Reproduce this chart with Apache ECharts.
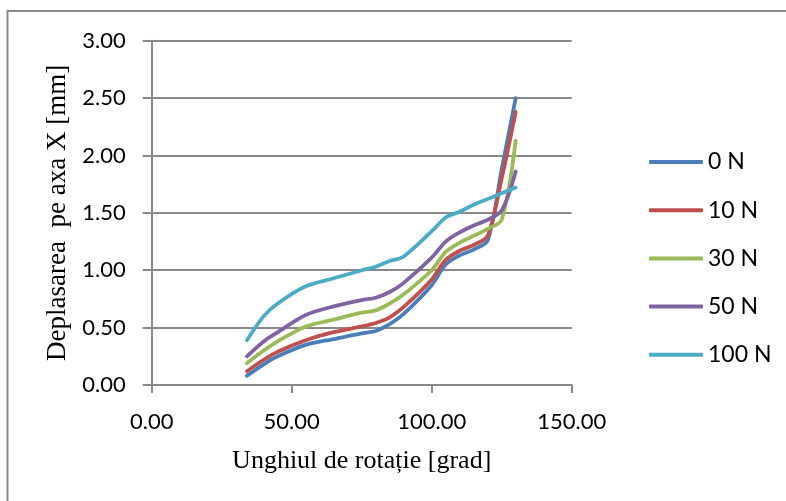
<!DOCTYPE html>
<html>
<head>
<meta charset="utf-8">
<style>
  html, body { margin: 0; padding: 0; background: #fff; }
  #chart { width: 786px; height: 501px; }
</style>
<script src="https://cdn.jsdelivr.net/npm/echarts@6/dist/echarts.min.js"></script>
</head>
<body>
<div id="chart"></div>
<script>
// Rotation angle samples [grad]
const angles = [34, 40, 45, 55, 65, 75, 80, 85, 90, 100, 105, 110, 115, 120, 125, 130];

// Displacement along X [mm] for each applied load
const load0N   = [0.08, 0.18, 0.25, 0.35, 0.40, 0.45, 0.47, 0.53, 0.62, 0.87, 1.05, 1.13, 1.18, 1.26, 1.88, 2.50];
const load10N  = [0.12, 0.22, 0.29, 0.39, 0.46, 0.51, 0.54, 0.59, 0.68, 0.92, 1.09, 1.17, 1.22, 1.30, 1.80, 2.38];
const load30N  = [0.19, 0.30, 0.38, 0.51, 0.57, 0.63, 0.65, 0.71, 0.79, 1.00, 1.16, 1.24, 1.30, 1.36, 1.44, 2.13];
const load50N  = [0.25, 0.38, 0.46, 0.61, 0.685, 0.74, 0.76, 0.81, 0.89, 1.11, 1.25, 1.33, 1.39, 1.44, 1.52, 1.86];
const load100N = [0.39, 0.60, 0.71, 0.86, 0.93, 1.00, 1.03, 1.08, 1.12, 1.34, 1.46, 1.51, 1.57, 1.62, 1.67, 1.72];

const seriesNames = ['0 N', '10 N', '30 N', '50 N', '100 N'];
const seriesValues = [load0N, load10N, load30N, load50N, load100N];
const seriesColors = ['#4a7ebb', '#c0504d', '#9bbb59', '#8064a2', '#4bacc6'];

const xTitle = 'Unghiul de rotație [grad]';
const yTitle = 'Deplasarea  pe axa X [mm]';

const gridGray = '#898989';
const labelFont = 'Lato, "Open Sans", sans-serif';
const titleFont = '"Liberation Serif", "Times New Roman", serif';

const chart = echarts.init(document.getElementById('chart'), null, { renderer: 'canvas' });

chart.setOption({
  animation: false,
  backgroundColor: '#fff',
  graphic: [{
    type: 'rect',
    shape: { x: 7.5, y: 11, width: 900, height: 700 },
    style: { fill: 'none', stroke: gridGray, lineWidth: 2 },
    silent: true
  }],
  grid: { left: 151.7, right: 214.3, top: 40.7, bottom: 116, containLabel: false },
  legend: {
    orient: 'vertical',
    left: 649,
    top: 150,
    padding: 0,
    itemWidth: 54,
    itemHeight: 4,
    itemGap: 24.2,
    icon: 'roundRect',
    textStyle: { fontFamily: labelFont, fontSize: 23, color: '#000', lineHeight: 24 },
    data: seriesNames
  },
  xAxis: {
    type: 'value',
    min: 0, max: 150, interval: 50,
    name: xTitle,
    nameLocation: 'middle',
    nameGap: 63,
    nameTextStyle: { fontFamily: titleFont, fontSize: 26, color: '#000' },
    axisLine: { show: true, lineStyle: { color: gridGray, width: 2 } },
    axisTick: { show: true, inside: false, length: 8, lineStyle: { color: gridGray, width: 2 } },
    axisLabel: {
      margin: 26,
      fontFamily: labelFont, fontSize: 22, color: '#000',
      formatter: v => v.toFixed(2)
    },
    splitLine: { show: false }
  },
  yAxis: {
    type: 'value',
    min: 0, max: 3, interval: 0.5,
    name: yTitle,
    nameLocation: 'middle',
    nameRotate: 90,
    nameGap: 76,
    nameTextStyle: { fontFamily: titleFont, fontSize: 27, color: '#000' },
    axisLine: { show: true, lineStyle: { color: gridGray, width: 2 } },
    axisTick: { show: true, inside: false, length: 9, lineStyle: { color: gridGray, width: 2 } },
    axisLabel: {
      margin: 26,
      fontFamily: labelFont, fontSize: 22, color: '#000',
      formatter: v => v.toFixed(2)
    },
    splitLine: { show: true, lineStyle: { color: gridGray, width: 2 } }
  },
  series: seriesNames.map((name, i) => ({
    name,
    type: 'line',
    data: angles.map((a, j) => [a, seriesValues[i][j]]),
    smooth: 0.3,
    symbol: 'none',
    color: seriesColors[i],
    lineStyle: { width: 3.8, color: seriesColors[i], cap: 'round', join: 'round' }
  }))
});
</script>
</body>
</html>
